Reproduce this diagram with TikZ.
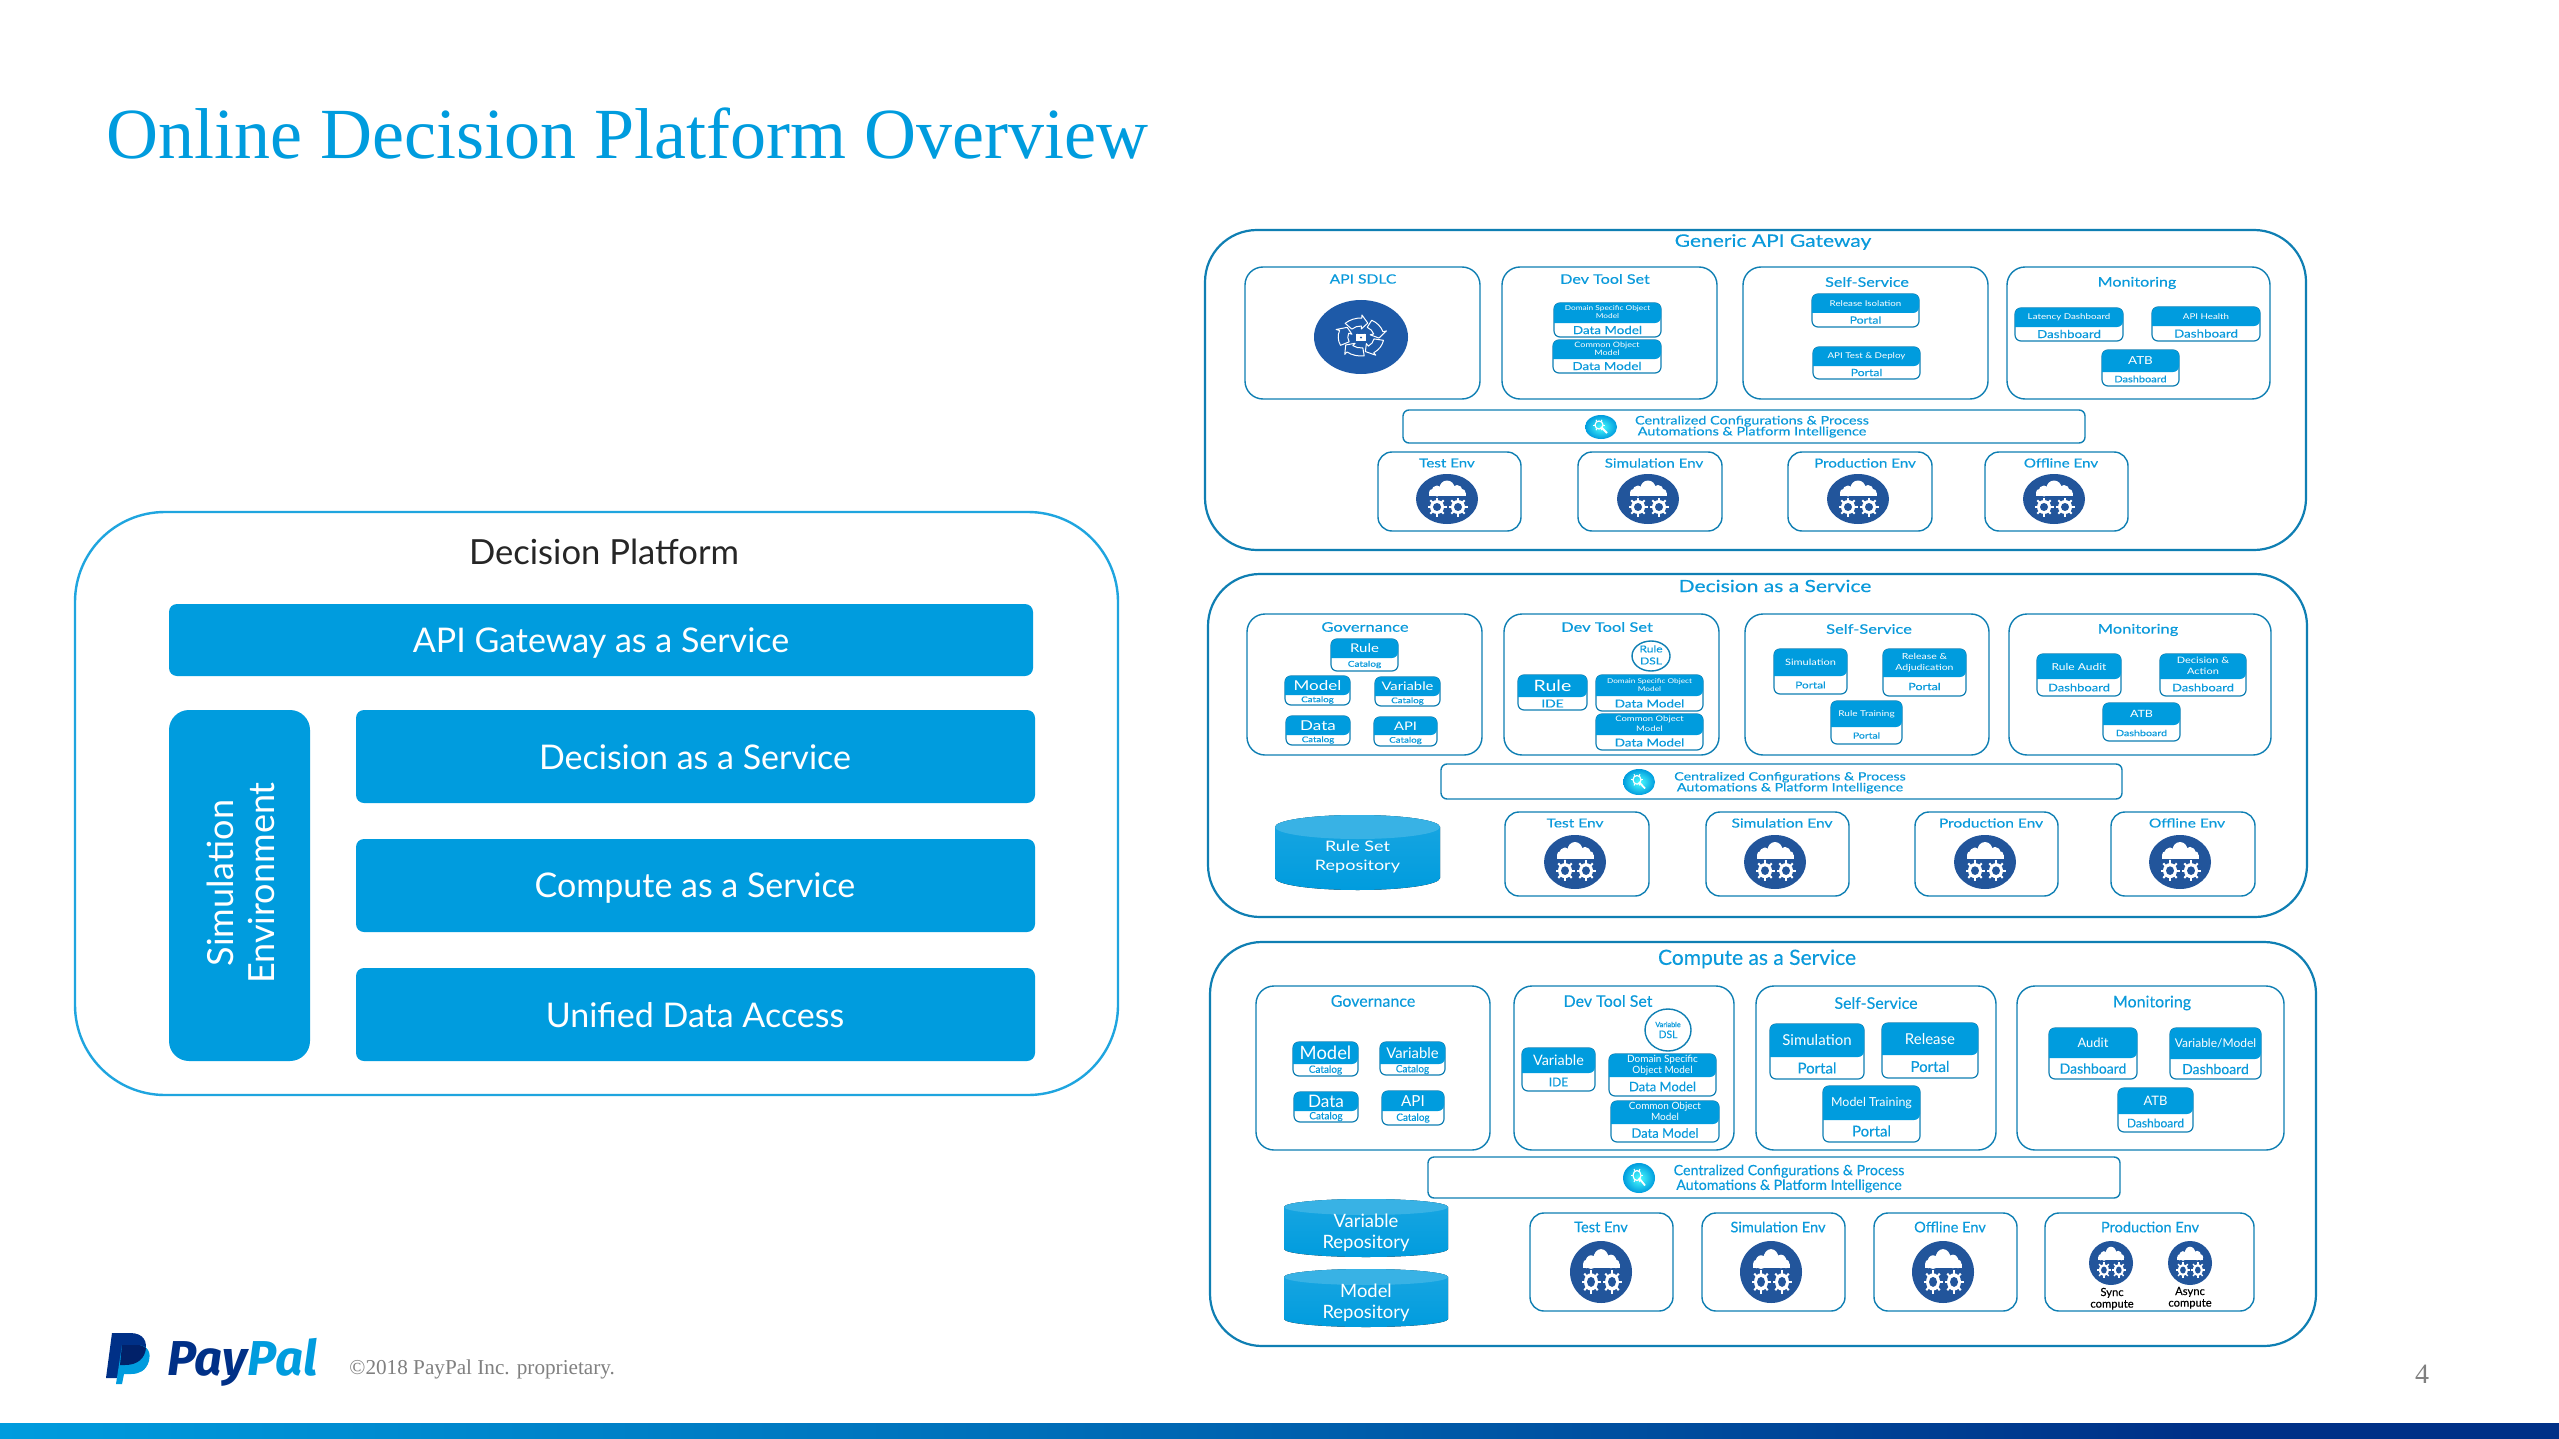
\documentclass[tikz,border=0pt]{standalone}
\usepackage{fontspec}
\usetikzlibrary{shapes.geometric,shadings}
\setmainfont{Lato}
\newfontfamily\gonefont[FakeStretch=1.22,FakeBold=0.35]{Lato}
\newfontfamily\gtwofont[FakeStretch=1.25,FakeBold=0.3]{Lato}
\newfontfamily\gthreefont[FakeBold=0.2]{Lato}
\newfontfamily\goneheadfont[FakeStretch=1.22]{Lato}
\newfontfamily\gtwoheadfont[FakeStretch=1.25]{Lato}
\newfontfamily\gthreeheadfont{Lato}
\newfontfamily\serfont{Liberation Serif}
\newfontfamily\logofont[BoldItalicFont={Fira Sans Bold Italic}]{Fira Sans}
\newcommand{\hdfont}{\normalfont}
\definecolor{ppblue}{HTML}{009CDE}
\definecolor{ppmid}{HTML}{0070BA}
\definecolor{framecol}{HTML}{0F7FB3}
\definecolor{rimcol}{HTML}{1FA5DF}
\definecolor{labelcol}{HTML}{0A9ADB}
\definecolor{iconblue}{HTML}{22559B}
\definecolor{sdlcblue}{HTML}{1E5AA8}
\definecolor{ppnavy}{HTML}{003087}
\definecolor{ppdeep}{HTML}{012169}
\newcommand{\sz}[1]{\pgfmathsetmacro\szb{#1*1.25}\fontsize{#1}{\szb}\selectfont}
\newcommand{\twol}[4]{\sz{#1}\begin{tabular}{@{}c@{}}#3\\[#2]#4\end{tabular}}
\tikzset{
  groupbox/.style={draw=framecol,line width=1.1pt,rounded corners=26pt,fill=white},
  subbox/.style={draw=framecol,line width=0.7pt,rounded corners=9pt,fill=white},
  envframe/.style={draw=framecol,line width=0.7pt,rounded corners=7pt,fill=white},
  barframe/.style={draw=framecol,line width=0.7pt,rounded corners=3pt,fill=white},
  cardbody/.style={draw=framecol,line width=0.6pt,rounded corners=3pt,fill=white},
  lbl/.style={text=labelcol,inner sep=0pt,align=center},
  headtxt/.style={text=white,inner sep=0pt,align=center,font=\hdfont},
  bigbox/.style={fill=ppblue,rounded corners=4pt},
  disc/.style={ellipse,inner sep=0pt,fill=iconblue},
}
% card with a filled head and a white foot
\newcommand{\card}[8]{
  \draw[cardbody] (#2,#4) rectangle (#3,#6);
  \fill[ppblue] (#2,#5) [rounded corners=3pt] -- (#2,#4) -- (#3,#4) -- (#3,#5) [sharp corners] -- cycle;
  \node[headtxt] (#1h) at ({(#2+#3)/2},{(#4+#5)/2}) {#7};
  \node[lbl] (#1f) at ({(#2+#3)/2},{(#5+#6)/2}) {#8};
}
% cloud over two gears
\newcommand{\cloudicon}[5]{
  \node[disc,minimum width=#4pt,minimum height=#5pt] (#1) at (#2,#3) {};
  \begin{scope}[shift={(#2,#3)},xscale=#4/31,yscale=#5/25]
    \fill[white] (-10,-8) circle[radius=5.5] (0,-11) circle[radius=7.5] (10,-8.5) circle[radius=5.5] (-14.5,-6.5) circle[radius=3.5] (15,-6.5) circle[radius=3.5];
    \fill[white] (-18,-3) rectangle (18.5,-6.5);
    \foreach \gx/\gy in {-10/8,11/8}{
      \fill[white] (\gx,\gy) circle[radius=7];
      \foreach \a in {0,45,...,315}
        \draw[white,line width=#4/31*1pt] (\gx,\gy) ++(\a:6) -- ++(\a:3.5);
      \fill[iconblue] (\gx,\gy) circle[radius=4];
    }
  \end{scope}
}
% round badge with a wrench
\newcommand{\wrenchicon}[5]{
  \node[ellipse,inner sep=0pt,minimum width=#4pt,minimum height=#5pt,inner color=cyan!70!white,outer color=ppblue] (#1) at (#2,#3) {};
  \begin{scope}[shift={(#2,#3)},xscale=#4/16,yscale=#5/12]
    \draw[white,line width=0.6pt] (-2,-2) circle[radius=4];
    \foreach \a in {0,60,...,300}
      \draw[white,line width=0.5pt] (-2,-2) ++(\a:4) -- ++(\a:2);
    \draw[white,line width=0.9pt] (0,0) -- (6,6);
  \end{scope}
}
% drum
\newcommand{\repo}[7]{
  \fill[top color=ppblue!90!white,bottom color=ppblue] (#2,#4+#6) -- (#2,#5-#6)
    arc[start angle=180,end angle=0,x radius={(#3-#2)/2},y radius=#6]
    -- (#3,#4+#6) arc[start angle=0,end angle=-180,x radius={(#3-#2)/2},y radius=#6] -- cycle;
  \fill[ppblue!78!white] ({(#2+#3)/2},#4+#6) ellipse[x radius={(#3-#2)/2},y radius=#6];
  \node[headtxt] (#1) at ({(#2+#3)/2},{(#4+#5)/2+5}) {#7};
}
\newcommand{\envbox}[7]{
  \draw[envframe] (#2,#4) rectangle (#3,#5);
  \node[lbl] (#1) at (#6,#7) {\envsz #1};
}
\begin{document}
\begin{tikzpicture}[x=0.5pt,y=-0.5pt]
  \useasboundingbox (0,0) rectangle (2559,1439);
  \fill[white] (0,0) rectangle (2559,1439);

  % page furniture
  \node[text=ppblue,inner sep=0pt,anchor=west] (title) at (106,134) {\serfont\sz{36}Online Decision Platform Overview};
  \fill[left color=ppblue,right color=ppmid] (0,1423) rectangle (1000,1439);
  \fill[left color=ppmid,right color=ppnavy] (1000,1423) rectangle (2200,1439);
  \fill[ppnavy] (2200,1423) rectangle (2559,1439);
  \node[text=gray,inner sep=0pt] (pageno) at (2422,1374) {\serfont\sz{14}4};
  \node[text=gray,inner sep=0pt,anchor=west] (copyright) at (349,1369) {\serfont\sz{10.6}©2018 PayPal Inc. proprietary.};

  % logo
  \fill[ppnavy] (112,1333) -- (130,1333) .. controls (144,1333) and (148,1342) .. (145,1352) .. controls (142,1362) and (134,1365) .. (125,1365) -- (120,1365) -- (118,1378) -- (106,1378) -- cycle;
  \fill[ppblue] (122,1345) -- (137,1345) .. controls (149,1345) and (151,1354) .. (149,1361) .. controls (146,1371) and (139,1374) .. (131,1374) -- (124,1374) -- (122,1384) -- (116,1384) -- cycle;
  \fill[ppdeep] (122,1345) -- (137,1345) .. controls (141,1345) and (144,1346) .. (146,1348) .. controls (145,1358) and (138,1365) .. (125,1365) -- (120,1365) -- cycle;
  \node[inner sep=0pt,anchor=west] (logotext) at (167,1362) {\logofont\bfseries\itshape\sz{24.5}\textcolor{ppnavy}{Pay}\textcolor{ppblue}{Pal}};

  % left panel
  \draw[draw=rimcol,line width=1.2pt,rounded corners=45pt] (75,512) rectangle (1118,1095);
  \node[inner sep=0pt,text=black!85] (platform) at (604,552) {\sz{17.3}Decision Platform};
  \fill[bigbox] (169,604) rectangle (1033,676);
  \node[headtxt] (apigw) at (601,643) {\sz{17}API Gateway as a Service};
  \fill[bigbox,rounded corners=10pt] (169,710) rectangle (310,1061);
  \node[headtxt,rotate=90] (simenv) at (245,883) {\twol{18}{-2pt}{Simulation}{Environment}};
  \fill[bigbox] (356,710) rectangle (1035,803);
  \node[headtxt] (daas) at (695,757) {\sz{17}Decision as a Service};
  \fill[bigbox] (356,839) rectangle (1035,932);
  \node[headtxt] (caas) at (695,888) {\sz{17}Compute as a Service};
  \fill[bigbox] (356,968) rectangle (1035,1061);
  \node[headtxt] (uda) at (695,1015) {\sz{17}Unified Data Access};

  % generic api gateway
  \begin{scope}[every node/.append style={font=\gonefont}]
    \def\hdfont{\goneheadfont}
    \def\envsz{\sz{6.2}}
    \draw[groupbox] (1205,230) rectangle (2306,550);
    \node[lbl] (gwtitle) at (1773,242) {\sz{8.6}Generic API Gateway};

    \draw[subbox] (1245,267) rectangle (1480,399);
    \node[lbl] (sdlc) at (1363,279) {\sz{6.4}API SDLC};
    \node[disc,fill=sdlcblue,minimum width=47pt,minimum height=37pt] (sdlcdisc) at (1361,337) {};
    \begin{scope}[shift={(1361,337)},xscale=1.2]
      \foreach \a in {10,82,154,226,298}
        \draw[white,line width=0.5pt,line join=round] (\a:19) arc[start angle=\a,end angle=\a+46,radius=19] -- (\a+46:22) -- (\a+66:15) -- (\a+46:8) -- (\a+46:11) arc[start angle=\a+46,end angle=\a,radius=11] -- cycle;
      \draw[white,line width=0.6pt] (-3,-3) arc[start angle=180,end angle=0,radius=3];
      \fill[white] (-4.5,-3) rectangle (4.5,4);
      \fill[sdlcblue] (0,0.5) circle[radius=1];
    \end{scope}

    \draw[subbox] (1502,267) rectangle (1717,399);
    \node[lbl] (gwdev) at (1605,279) {\sz{6.6}Dev Tool Set};
    \card{gwdso}{1554}{1661}{303}{323}{337}{\twol{3.4}{-0.2pt}{Domain Specific Object}{Model}}{\sz{5.5}Data Model}
    \card{gwcom}{1553}{1661}{340}{359}{373}{\twol{3.7}{-0.4pt}{Common Object}{Model}}{\sz{5.5}Data Model}

    \draw[subbox] (1743,267) rectangle (1988,399);
    \node[lbl] (gwself) at (1867,282) {\sz{6.6}Self-Service};
    \card{gwrel}{1812}{1919}{294}{313}{327}{\sz{4}Release Isolation}{\sz{5}Portal}
    \card{gwtst}{1813}{1920}{347}{366}{379}{\sz{4}API Test \& Deploy}{\sz{5}Portal}

    \draw[subbox] (2007,267) rectangle (2270,399);
    \node[lbl] (gwmon) at (2137,283) {\sz{6.6}Monitoring};
    \card{gwlat}{2015}{2123}{308}{327}{341}{\sz{4}Latency Dashboard}{\sz{5.5}Dashboard}
    \card{gwhlt}{2152}{2260}{307}{326}{341}{\sz{4}API Health}{\sz{5.5}Dashboard}
    \card{gwatb}{2102}{2179}{350}{372}{386}{\sz{5.5}ATB}{\sz{4.5}Dashboard}

    \draw[barframe] (1403,410) rectangle (2085,443);
    \wrenchicon{gwconf}{1601}{427}{16}{12}
    \node[lbl] (gwconftxt) at (1752,427) {\twol{5.9}{-1.9pt}{Centralized Configurations \& Process}{Automations \& Platform Intelligence}};

    \envbox{Test Env}{1378}{1521}{452}{531}{1447}{463}
    \cloudicon{gwtest}{1447}{499}{31}{25}
    \envbox{Simulation Env}{1578}{1722}{452}{531}{1654}{463}
    \cloudicon{gwsim}{1648}{499}{31}{25}
    \envbox{Production Env}{1788}{1932}{452}{531}{1865}{463}
    \cloudicon{gwprod}{1858}{499}{31}{25}
    \envbox{Offline Env}{1985}{2128}{452}{531}{2061}{463}
    \cloudicon{gwoff}{2054}{499}{31}{25}
  \end{scope}

  % decision as a service
  \begin{scope}[every node/.append style={font=\gtwofont}]
    \def\hdfont{\gtwoheadfont}
    \def\envsz{\sz{6.2}}
    \draw[groupbox] (1208,574) rectangle (2307,917);
    \node[lbl] (dtitle) at (1775,586) {\sz{8.4}Decision as a Service};

    \draw[subbox] (1247,614) rectangle (1482,755);
    \node[lbl] (dgov) at (1365,627) {\sz{6.6}Governance};
    \card{drule}{1331}{1398}{639}{658}{671}{\sz{6}Rule}{\sz{4}Catalog}
    \card{dmodel}{1285}{1350}{676}{695}{705}{\sz{6.8}Model}{\sz{3.9}Catalog}
    \card{dvar}{1375}{1440}{677}{696}{706}{\sz{5.9}Variable}{\sz{3.9}Catalog}
    \card{ddata}{1286}{1350}{716}{735}{745}{\sz{6.8}Data}{\sz{3.9}Catalog}
    \card{dapi}{1374}{1437}{717}{735}{746}{\sz{5.9}API}{\sz{3.9}Catalog}

    \draw[subbox] (1504,614) rectangle (1719,755);
    \node[lbl] (ddev) at (1607,627) {\sz{6.6}Dev Tool Set};
    \node[ellipse,draw=framecol,fill=white,line width=0.7pt,minimum width=19pt,minimum height=15pt,inner sep=0pt] (ddsl) at (1651,656) {};
    \node[lbl] (ddsltxt) at (1651,656) {\twol{4.8}{0pt}{Rule}{DSL}};
    \card{dide}{1518}{1587}{675}{697}{710}{\sz{7.8}Rule}{\sz{5.5}IDE}
    \card{ddso}{1596}{1703}{675}{696}{711}{\twol{3.3}{0pt}{Domain Specific Object}{Model}}{\sz{5.4}Data Model}
    \card{dcom}{1596}{1703}{714}{735}{750}{\twol{3.8}{0pt}{Common Object}{Model}}{\sz{5.4}Data Model}

    \draw[subbox] (1745,614) rectangle (1989,755);
    \node[lbl] (dself) at (1869,629) {\sz{6.6}Self-Service};
    \card{dsim}{1774}{1847}{649}{676}{694}{\sz{4.4}Simulation}{\sz{4.7}Portal}
    \card{drel}{1883}{1966}{649}{677}{696}{\twol{4.2}{0pt}{Release \&}{Adjudication}}{\sz{5}Portal}
    \card{dtrn}{1831}{1902}{701}{727}{744}{\sz{4}Rule Training}{\sz{4.2}Portal}

    \draw[subbox] (2009,614) rectangle (2271,755);
    \node[lbl] (dmon) at (2138,630) {\sz{6.6}Monitoring};
    \card{daud}{2037}{2121}{654}{679}{696}{\sz{4.8}Rule Audit}{\sz{5.2}Dashboard}
    \card{dact}{2160}{2246}{654}{679}{696}{\twol{4.4}{0pt}{Decision \&}{Action}}{\sz{5.2}Dashboard}
    \card{datb}{2103}{2180}{703}{725}{741}{\sz{5}ATB}{\sz{4.3}Dashboard}

    \draw[barframe] (1441,764) rectangle (2122,799);
    \wrenchicon{dconf}{1639}{782}{16}{13}
    \node[lbl] (dconftxt) at (1790,783) {\twol{5.7}{-1.7pt}{Centralized Configurations \& Process}{Automations \& Platform Intelligence}};

    \repo{drepo}{1275}{1440}{815}{890}{12}{\twol{7.2}{0.5pt}{Rule Set}{Repository}}

    \envbox{Test Env}{1505}{1649}{812}{896}{1575}{823}
    \cloudicon{dtest}{1575}{862}{31}{27}
    \envbox{Simulation Env}{1706}{1849}{812}{896}{1782}{823}
    \cloudicon{dsim}{1775}{862}{31}{27}
    \envbox{Production Env}{1915}{2058}{812}{896}{1991}{823}
    \cloudicon{dprod}{1985}{862}{31}{27}
    \envbox{Offline Env}{2111}{2255}{812}{896}{2187}{823}
    \cloudicon{doff}{2180}{862}{31}{27}
  \end{scope}

  % compute as a service
  \begin{scope}[every node/.append style={font=\gthreefont}]
    \def\hdfont{\gthreeheadfont}
    \def\envsz{\sz{7.3}}
    \draw[groupbox] (1210,942) rectangle (2316,1346);
    \node[lbl] (ctitle) at (1757,959) {\sz{10.5}Compute as a Service};

    \draw[subbox] (1256,986) rectangle (1490,1150);
    \node[lbl] (cgov) at (1373,1001) {\sz{8}Governance};
    \card{cmodel}{1293}{1358}{1042}{1064}{1076}{\sz{9.2}Model}{\sz{5}Catalog}
    \card{cvar}{1380}{1445}{1042}{1064}{1075}{\sz{7.4}Variable}{\sz{5}Catalog}
    \card{cdata}{1294}{1358}{1092}{1111}{1122}{\sz{8.6}Data}{\sz{5}Catalog}
    \card{capi}{1382}{1444}{1091}{1111}{1125}{\sz{7.6}API}{\sz{5}Catalog}

    \draw[subbox] (1514,986) rectangle (1734,1150);
    \node[lbl] (cdev) at (1608,1001) {\sz{8}Dev Tool Set};
    \node[ellipse,draw=framecol,fill=white,line width=0.7pt,minimum width=23pt,minimum height=21pt,inner sep=0pt] (cdsl) at (1668,1030) {};
    \node[lbl] (cdsltxt) at (1668,1030) {\twol{5.2}{-1pt}{{\sz{3.6}Variable}}{DSL}};
    \card{cide}{1522}{1595}{1048}{1073}{1091}{\sz{7.2}Variable}{\sz{6}IDE}
    \card{cdso}{1609}{1716}{1054}{1077}{1096}{\twol{5}{-0.5pt}{Domain Specific}{Object Model}}{\sz{6.5}Data Model}
    \card{ccom}{1611}{1719}{1101}{1124}{1142}{\twol{5}{-0.5pt}{Common Object}{Model}}{\sz{6.5}Data Model}

    \draw[subbox] (1756,986) rectangle (1996,1150);
    \node[lbl] (cself) at (1876,1003) {\sz{8}Self-Service};
    \card{csim}{1770}{1864}{1024}{1057}{1079}{\sz{7.5}Simulation}{\sz{7.5}Portal}
    \card{crel}{1882}{1978}{1023}{1055}{1078}{\sz{7.5}Release}{\sz{7.5}Portal}
    \card{ctrn}{1823}{1920}{1086}{1120}{1142}{\sz{6.2}Model Training}{\sz{7.5}Portal}

    \draw[subbox] (2017,986) rectangle (2284,1150);
    \node[lbl] (cmon) at (2152,1003) {\sz{8}Monitoring};
    \card{caud}{2049}{2137}{1028}{1058}{1079}{\sz{6.5}Audit}{\sz{7}Dashboard}
    \card{cvmd}{2170}{2261}{1028}{1059}{1079}{\sz{6}Variable/Model}{\sz{7}Dashboard}
    \card{catb}{2118}{2193}{1088}{1114}{1132}{\sz{6.5}ATB}{\sz{6}Dashboard}

    \draw[barframe] (1428,1157) rectangle (2120,1198);
    \wrenchicon{cconf}{1639}{1178}{16}{15}
    \node[lbl] (cconftxt) at (1789,1179) {\twol{7.1}{-1.5pt}{Centralized Configurations \& Process}{Automations \& Platform Intelligence}};

    \repo{cvarrepo}{1284}{1448}{1199}{1257}{8}{\twol{9.2}{-1pt}{Variable}{Repository}}
    \repo{cmodrepo}{1284}{1448}{1269}{1327}{8}{\twol{9.2}{-1pt}{Model}{Repository}}

    \envbox{Test Env}{1530}{1673}{1213}{1311}{1601}{1227}
    \cloudicon{ctest}{1601}{1272}{31}{31}
    \envbox{Simulation Env}{1702}{1845}{1213}{1311}{1778}{1227}
    \cloudicon{csim}{1771}{1272}{31}{31}
    \envbox{Offline Env}{1874}{2017}{1213}{1311}{1950}{1227}
    \cloudicon{coff}{1943}{1272}{31}{31}
    \envbox{Production Env}{2045}{2254}{1213}{1311}{2150}{1227}
    \cloudicon{csync}{2111}{1263}{22}{22}
    \cloudicon{casync}{2190}{1263}{22}{22}
    \node[inner sep=0pt,align=center,text=black] (synctxt) at (2112,1299) {\twol{5.6}{-1.2pt}{Sync}{compute}};
    \node[inner sep=0pt,align=center,text=black] (asynctxt) at (2190,1298) {\twol{5.6}{-1.2pt}{Async}{compute}};
  \end{scope}
\end{tikzpicture}
\end{document}
